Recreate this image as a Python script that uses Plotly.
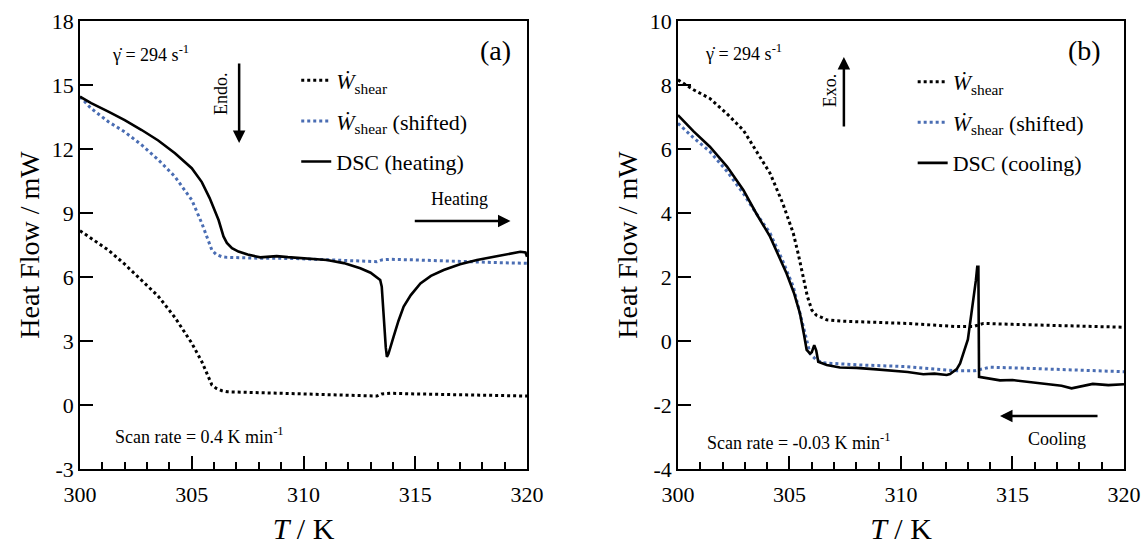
import plotly.graph_objects as go

# ---------------- data: panel (a) heating ----------------
a_dsc_T = [300.0, 300.5, 301.27, 302.0, 302.76, 303.5, 304.25, 305.0, 305.45, 305.8, 306.2, 306.42,
           306.57, 306.8, 307.09, 307.5, 308.06, 308.4, 308.8, 309.3, 309.8, 310.4, 311.05, 311.8,
           312.54, 313.0, 313.43, 313.5, 313.56, 313.61, 313.68, 313.73, 313.8, 314.03, 314.25,
           314.48, 314.8, 315.23, 315.7, 316.27, 317.0, 317.76, 318.5, 319.26, 319.7, 319.93, 320.0]
a_dsc_Q = [14.45, 14.15, 13.75, 13.35, 12.89, 12.4, 11.8, 11.1, 10.45, 9.7, 8.67, 7.9,
           7.6, 7.35, 7.19, 7.05, 6.92, 6.95, 6.98, 6.93, 6.9, 6.86, 6.80, 6.65,
           6.41, 6.2, 5.86, 5.55, 4.5, 3.51, 2.7, 2.26, 2.4, 3.2, 3.95,
           4.61, 5.15, 5.70, 6.05, 6.33, 6.6, 6.80, 6.95, 7.11, 7.18, 7.15, 6.95]

a_shift_T = [300.0, 300.5, 301.27, 302.0, 302.76, 303.5, 304.25, 305.0, 305.45, 305.7, 305.9, 306.1,
             306.35, 306.57, 307.2, 308.0, 309.5, 311.0, 312.5, 313.28, 313.5, 313.88, 315.0,
             317.0, 318.5, 320.0]
a_shift_Q = [14.45, 13.9, 13.28, 12.8, 12.19, 11.5, 10.70, 9.61, 8.52, 7.8, 7.26, 7.05,
             6.95, 6.92, 6.90, 6.88, 6.87, 6.8, 6.74, 6.72, 6.8, 6.83, 6.8,
             6.72, 6.68, 6.64]

a_shear_T = [300.0, 300.5, 301.27, 302.0, 302.76, 303.5, 304.25, 305.0, 305.45, 305.7, 305.9, 306.1,
             306.35, 306.6, 307.2, 308.0, 309.5, 311.0, 312.5, 313.28, 313.5, 313.9, 315.0,
             317.0, 318.5, 320.0]
a_shear_Q = [8.17, 7.8, 7.26, 6.6, 5.86, 5.1, 4.1, 2.9, 2.03, 1.4, 0.94, 0.78,
             0.67, 0.62, 0.6, 0.6, 0.55, 0.5, 0.44, 0.42, 0.52, 0.55, 0.52,
             0.47, 0.44, 0.42]

# ---------------- data: panel (b) cooling ----------------
b_shear_T = [300.0, 300.7, 301.43, 302.2, 302.93, 303.5, 304.13, 304.7, 305.17, 305.4, 305.62, 305.8,
             306.0, 306.2, 306.4, 306.67, 307.3, 308.2, 309.2, 310.25, 311.4, 312.5, 313.24, 313.7,
             315.0, 316.2, 318.0, 320.0]
b_shear_Q = [8.16, 7.85, 7.58, 7.1, 6.59, 5.95, 5.24, 4.3, 3.37, 2.7, 2.01, 1.4,
             0.97, 0.81, 0.75, 0.66, 0.62, 0.6, 0.58, 0.55, 0.5, 0.45, 0.45, 0.55,
             0.52, 0.5, 0.46, 0.43]

b_shift_T = [300.0, 300.7, 301.43, 302.2, 302.93, 303.5, 304.13, 304.7, 305.17, 305.4, 305.62, 305.8,
             305.92, 306.2, 306.5, 306.9, 308.2, 310.25, 311.5, 312.5, 313.3, 313.99, 315.5,
             317.0, 318.5, 320.0]
b_shift_Q = [6.8, 6.35, 5.92, 5.3, 4.61, 4.0, 3.37, 2.5, 1.70, 1.1, 0.45, -0.05,
             -0.39, -0.59, -0.68, -0.70, -0.75, -0.8, -0.87, -0.93, -0.93, -0.82, -0.85,
             -0.89, -0.93, -0.96]

b_dsc_T = [300.0, 300.7, 301.43, 302.2, 302.93, 303.5, 304.13, 304.87, 305.2, 305.47, 305.65, 305.77,
           305.92, 306.0, 306.11, 306.2, 306.29, 306.67, 307.26, 308.0, 308.76, 309.5, 310.3, 311.0,
           311.5, 312.05, 312.2, 312.5, 312.65, 313.0, 313.2, 313.36, 313.42, 313.47, 313.5, 313.8,
           314.44, 315.0, 315.63, 316.2, 316.67, 317.2, 317.65, 318.1, 318.6, 319.3, 320.0]
b_dsc_Q = [7.06, 6.55, 6.07, 5.45, 4.72, 4.0, 3.26, 2.11, 1.5, 0.86, 0.2, -0.28,
           -0.39, -0.35, -0.13, -0.3, -0.65, -0.75, -0.83, -0.84, -0.88, -0.92, -0.97, -1.04,
           -1.02, -1.06, -1.03, -0.88, -0.7, 0.05, 1.05, 1.9, 2.32, 2.32, -1.12, -1.15,
           -1.23, -1.22, -1.27, -1.3, -1.34, -1.4, -1.48, -1.42, -1.34, -1.38, -1.35]

x_ticks = [300, 305, 310, 315, 320]
a_y_ticks = [-3, 0, 3, 6, 9, 12, 15, 18]
b_y_ticks = [-4, -2, 0, 2, 4, 6, 8, 10]

FONT = "Times New Roman, Liberation Serif, serif"
BLUE = "#4a6db3"
W_LABEL = "<i>Ẇ</i><sub>shear</sub>"

fig = go.Figure()

def add_panel(xa, ya, leg, shear_T, shear_Q, shift_T, shift_Q, dsc_T, dsc_Q, dsc_name):
    fig.add_trace(go.Scatter(x=shear_T, y=shear_Q, mode="lines", name=W_LABEL,
                             line=dict(color="black", width=3, dash="3px,3px"),
                             xaxis=xa, yaxis=ya, legend=leg, legendgroup=leg + "1"))
    fig.add_trace(go.Scatter(x=shift_T, y=shift_Q, mode="lines", name=W_LABEL + " (shifted)",
                             line=dict(color=BLUE, width=3, dash="3px,3px"),
                             xaxis=xa, yaxis=ya, legend=leg, legendgroup=leg + "2"))
    fig.add_trace(go.Scatter(x=dsc_T, y=dsc_Q, mode="lines", name=dsc_name,
                             line=dict(color="black", width=2.6),
                             xaxis=xa, yaxis=ya, legend=leg, legendgroup=leg + "3"))

add_panel("x", "y", "legend", a_shear_T, a_shear_Q, a_shift_T, a_shift_Q, a_dsc_T, a_dsc_Q, "DSC (heating)")
add_panel("x2", "y2", "legend2", b_shear_T, b_shear_Q, b_shift_T, b_shift_Q, b_dsc_T, b_dsc_Q, "DSC (cooling)")

def xaxis_cfg(domain, anchor):
    return dict(domain=domain, range=[300, 320], tickvals=x_ticks, ticktext=[str(v) for v in x_ticks],
                ticks="inside", ticklen=13, anchor=anchor, automargin=False, ticklabelstandoff=5,
                tickwidth=1.5, tickcolor="black", showline=True, linecolor="black", linewidth=1.5,
                mirror=True, showgrid=False, zeroline=False,
                minor=dict(dtick=1, ticks="inside", ticklen=7, tickwidth=1.5, tickcolor="black"),
                tickfont=dict(family=FONT, size=22, color="black"),
                title=dict(text="<i>T</i> / K", font=dict(family=FONT, size=30, color="black"), standoff=12))

def yaxis_cfg(rng, tv, anchor):
    return dict(domain=[0, 1], range=rng, tickvals=tv, ticktext=[str(v) for v in tv],
                ticks="inside", ticklen=13, tickwidth=1.5, automargin=False,
                tickcolor="black", showline=True, linecolor="black", linewidth=1.5, mirror=True,
                showgrid=False, zeroline=False, anchor=anchor,
                tickfont=dict(family=FONT, size=22, color="black"),
                title=dict(text="Heat Flow / mW", font=dict(family=FONT, size=28, color="black"), standoff=4))

legend_common = dict(font=dict(family=FONT, size=22, color="black"), bgcolor="rgba(0,0,0,0)",
                     traceorder="grouped", tracegroupgap=9, xanchor="left", yanchor="top")

fig.update_layout(
    width=1146, height=545, margin=dict(l=0, r=0, t=21, b=76),
    paper_bgcolor="white", plot_bgcolor="white",
    font=dict(family=FONT, color="black"),
    xaxis=xaxis_cfg([0.0698, 0.4599], "y"),
    yaxis=yaxis_cfg([-3, 18], a_y_ticks, "x"),
    xaxis2=xaxis_cfg([0.5916, 0.9808], "y2"),
    yaxis2=yaxis_cfg([-4, 10], b_y_ticks, "x2"),
    legend=dict(x=0.2585, y=0.914, **legend_common),
    legend2=dict(x=0.7964, y=0.911, **legend_common),
    showlegend=True,
)

TXT = dict(family=FONT, color="black")
GAMMA = "γ̇ = 294 s<sup>-1</sup>"
ann = []
# panel (a)
ann.append(dict(x=301.34, y=16.5, xref="x", yref="y", text=GAMMA, showarrow=False,
                xanchor="left", font=TXT | dict(size=18)))
ann.append(dict(x=318.58, y=16.64, xref="x", yref="y", text="(a)", showarrow=False, font=TXT | dict(size=28)))
ann.append(dict(x=306.3, y=14.62, xref="x", yref="y", text="Endo.", textangle=-90, showarrow=False,
                font=TXT | dict(size=18)))
ann.append(dict(x=307.12, y=12.28, ax=307.12, ay=16.08, xref="x", yref="y", axref="x", ayref="y", text="",
                showarrow=True, arrowhead=2, arrowsize=1, arrowwidth=2.5, arrowcolor="black"))
ann.append(dict(x=317.0, y=9.66, xref="x", yref="y", text="Heating", showarrow=False, font=TXT | dict(size=18)))
ann.append(dict(x=319.26, y=8.62, ax=314.91, ay=8.62, xref="x", yref="y", axref="x", ayref="y", text="",
                showarrow=True, arrowhead=2, arrowsize=1, arrowwidth=2.5, arrowcolor="black"))
ann.append(dict(x=301.48, y=-1.41, xref="x", yref="y", text="Scan rate = 0.4 K min<sup>-1</sup>",
                showarrow=False, xanchor="left", font=TXT | dict(size=18)))
# panel (b)
ann.append(dict(x=301.12, y=9.03, xref="x2", yref="y2", text=GAMMA, showarrow=False,
                xanchor="left", font=TXT | dict(size=18)))
ann.append(dict(x=318.25, y=9.09, xref="x2", yref="y2", text="(b)", showarrow=False, font=TXT | dict(size=28)))
ann.append(dict(x=306.82, y=7.84, xref="x2", yref="y2", text="Exo.", textangle=-90, showarrow=False,
                font=TXT | dict(size=18)))
ann.append(dict(x=307.44, y=8.875, ax=307.44, ay=6.66, xref="x2", yref="y2", axref="x2", ayref="y2", text="",
                showarrow=True, arrowhead=2, arrowsize=1, arrowwidth=2.5, arrowcolor="black"))
ann.append(dict(x=317.0, y=-3.06, xref="x2", yref="y2", text="Cooling", showarrow=False, font=TXT | dict(size=18)))
ann.append(dict(x=314.44, y=-2.34, ax=318.88, ay=-2.34, xref="x2", yref="y2", axref="x2", ayref="y2", text="",
                showarrow=True, arrowhead=2, arrowsize=1, arrowwidth=2.5, arrowcolor="black"))
ann.append(dict(x=301.21, y=-3.125, xref="x2", yref="y2", text="Scan rate = -0.03 K min<sup>-1</sup>",
                showarrow=False, xanchor="left", font=TXT | dict(size=18)))
fig.update_layout(annotations=ann)

fig.write_html("out.html", config={"displayModeBar": False},
               post_script="document.body.style.margin='0px';document.body.style.overflow='hidden';")
